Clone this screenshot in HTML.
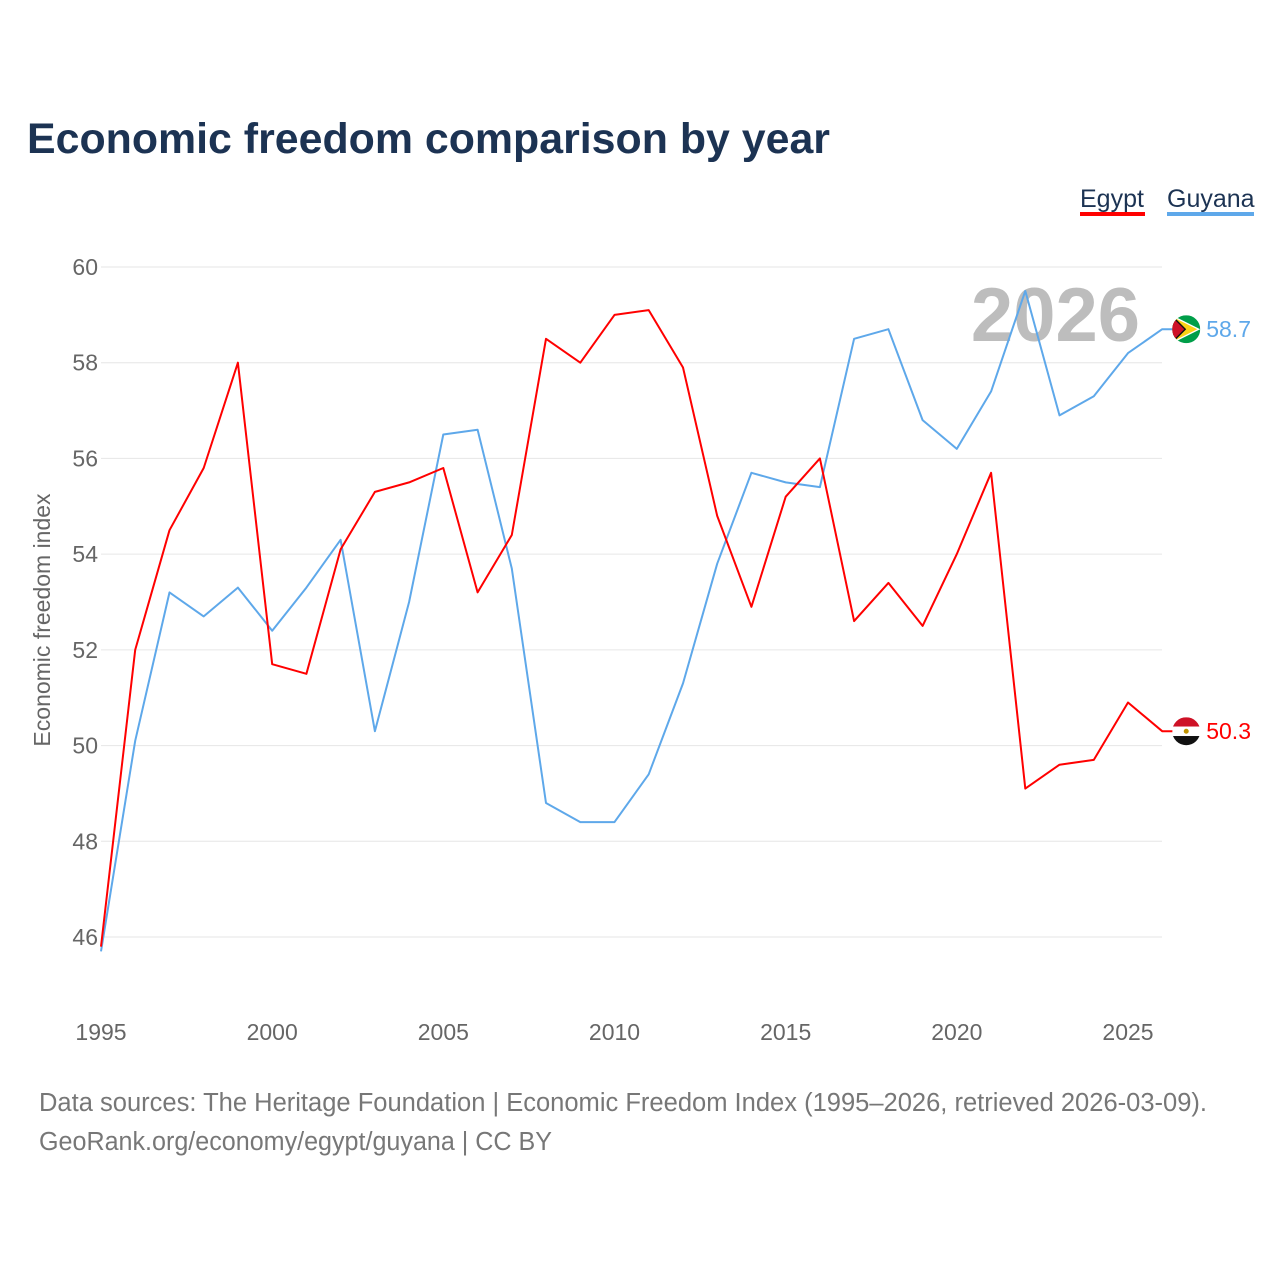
<!DOCTYPE html>
<html><head><meta charset="utf-8">
<style>
body{margin:0;background:#fff;font-family:"Liberation Sans",sans-serif;}
svg text{font-family:"Liberation Sans",sans-serif;}
</style></head>
<body>
<svg id="chart" width="1280" height="1280" viewBox="0 0 1280 1280" xmlns="http://www.w3.org/2000/svg">
<rect width="1280" height="1280" fill="#fff"/>
<text x="27" y="153" font-size="43" font-weight="bold" fill="#1c3353" textLength="803" lengthAdjust="spacingAndGlyphs">Economic freedom comparison by year</text>
<g>
<text x="1080" y="207" font-size="25" fill="#1c3353">Egypt</text>
<rect x="1080" y="212" width="65" height="4" fill="#ff0000"/>
</g>
<g>
<text x="1167" y="207" font-size="25" fill="#1c3353">Guyana</text>
<rect x="1167" y="212" width="87" height="4" fill="#5ea8ea"/>
</g>
<g id="grid"></g>
<g id="yticks"></g>
<g id="xticks"></g>
<text transform="translate(50,620) rotate(-90)" text-anchor="middle" font-size="23" fill="#666">Economic freedom index</text>
<text x="1140" y="341" text-anchor="end" font-size="76" font-weight="bold" fill="#bdbdbd">2026</text>
<g id="series"></g>
<text x="39" y="1111" font-size="25.5" fill="#777" textLength="1168" lengthAdjust="spacingAndGlyphs">Data sources: The Heritage Foundation | Economic Freedom Index (1995–2026, retrieved 2026-03-09).</text>
<text x="39" y="1150" font-size="25.5" fill="#777" textLength="513" lengthAdjust="spacingAndGlyphs">GeoRank.org/economy/egypt/guyana | CC BY</text>
</svg>
<script>
const years = [1995,1996,1997,1998,1999,2000,2001,2002,2003,2004,2005,2006,2007,2008,2009,2010,2011,2012,2013,2014,2015,2016,2017,2018,2019,2020,2021,2022,2023,2024,2025,2026];
const egypt = [45.8,52.0,54.5,55.8,58.0,51.7,51.5,54.1,55.3,55.5,55.8,53.2,54.4,58.5,58.0,59.0,59.1,57.9,54.8,52.9,55.2,56.0,52.6,53.4,52.5,54.0,55.7,49.1,49.6,49.7,50.9,50.3];
const guyana = [45.7,50.1,53.2,52.7,53.3,52.4,53.3,54.3,50.3,53.0,56.5,56.6,53.7,48.8,48.4,48.4,49.4,51.3,53.8,55.7,55.5,55.4,58.5,58.7,56.8,56.2,57.4,59.5,56.9,57.3,58.2,58.7];
const yTicks = [46,48,50,52,54,56,58,60];
const xTicks = [1995,2000,2005,2010,2015,2020,2025];

const NS="http://www.w3.org/2000/svg";
const x = v => 101 + (v-1995)*(1128-101)/30;
const y = v => 267 + (60-v)*(937-267)/14;
function mk(tag, attrs, parent){const e=document.createElementNS(NS,tag);for(const k in attrs)e.setAttribute(k,attrs[k]);parent.appendChild(e);return e;}
const svg=document.getElementById('chart');
const grid=document.getElementById('grid'), yt=document.getElementById('yticks'), xt=document.getElementById('xticks'), ser=document.getElementById('series');
yTicks.forEach(t=>{
  const l=mk('line',{x1:101,x2:1162,y1:y(t),y2:y(t),stroke:'#e6e6e6','stroke-width':1},grid);
  
  
  const tx=mk('text',{x:98,y:y(t)+8,'text-anchor':'end','font-size':23,fill:'#666'},yt);
  tx.textContent=t;
  
  
});
xTicks.forEach(t=>{
  const tx=mk('text',{x:x(t),y:1040,'text-anchor':'middle','font-size':23,fill:'#666'},xt);
  tx.textContent=t;
  
  
});
const defs=mk('defs',{},svg);
function flag(name,cx,cy){
  const cp=mk('clipPath',{id:'clip-'+name},defs);
  mk('circle',{cx:cx,cy:cy,r:14},cp);
  const g=mk('g',{'clip-path':'url(#clip-'+name+')'},ser);
  
  
  const l=cx-14,t=cy-14;
  if(name==='egypt'){
    mk('rect',{x:l,y:t,width:28,height:9.4,fill:'#ce1126'},g);
    mk('rect',{x:l,y:t+9.4,width:28,height:9.4,fill:'#fff'},g);
    mk('rect',{x:l,y:t+18.8,width:28,height:9.4,fill:'#111'},g);
    mk('circle',{cx:cx,cy:cy,r:2.5,fill:'#c09300'},g);
  } else {
    mk('rect',{x:l,y:t,width:28,height:28,fill:'#009e49'},g);
    mk('polygon',{points:`${l},${t} ${l+28},${cy} ${l},${t+28}`,fill:'#fff'},g);
    mk('polygon',{points:`${l},${t+1.5} ${l+25},${cy} ${l},${t+26.5}`,fill:'#fcd116'},g);
    mk('polygon',{points:`${l},${t} ${l+14},${cy} ${l},${t+28}`,fill:'#111'},g);
    mk('polygon',{points:`${l},${t+2} ${l+12},${cy} ${l},${t+26}`,fill:'#ce1126'},g);
  }
}
function line(vals,color,name){
  const lx=x(years[years.length-1]), last=vals[vals.length-1];
  const d=vals.map((v,i)=>(i?'L':'M')+x(years[i]).toFixed(1)+' '+y(v).toFixed(1)).join(' ')+' L'+(lx+12)+' '+y(last).toFixed(1);
  const p=mk('path',{d:d,fill:'none',stroke:color,'stroke-width':2,'stroke-linejoin':'round'},ser);
  
  
  flag(name,lx+24,y(last));
  const lab=mk('text',{x:lx+44,y:y(last)+8,'font-size':23,fill:color},ser);
  lab.textContent=last.toFixed(1);
  
  
}
line(guyana,'#5ea8ea','guyana');
line(egypt,'#ff0000','egypt');
</script>
</body></html>
